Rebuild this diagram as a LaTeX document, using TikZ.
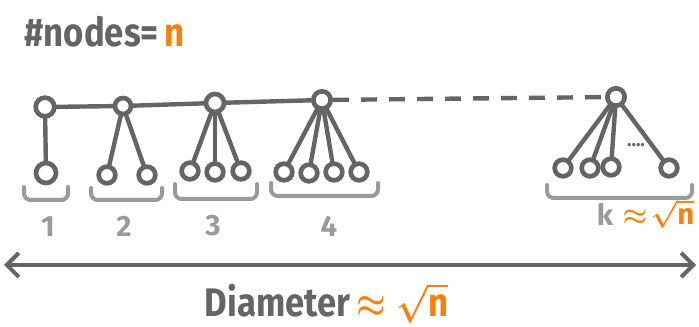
\documentclass[tikz,border=0pt]{standalone}
\usepackage{fontspec}
\setmainfont{Fira Sans}
\setsansfont{Fira Sans}
\usetikzlibrary{arrows.meta}
\definecolor{dk}{HTML}{656565}
\definecolor{lt}{HTML}{9A9A9A}
\definecolor{og}{HTML}{FF7F0E}
\tikzset{
  root/.style={circle,draw=dk,line width=3.5pt,fill=white,inner sep=0pt,minimum size=#1},
  leaf/.style={circle,draw=dk,line width=3.5pt,fill=white,inner sep=0pt,minimum size=12.5pt},
  edge/.style={draw=dk,line width=3.3pt,line cap=round},
  bracebox/.style={draw=lt,line width=3pt,rounded corners=5pt,line cap=round},
  lbl/.style={text=lt,font=\fontsize{22}{22}\selectfont\bfseries},
  big/.style={text=dk,font=\fontsize{26}{26}\selectfont\bfseries}
}
\begin{document}
\begin{tikzpicture}[x=0.75pt,y=-0.75pt]
\useasboundingbox (0,0) rectangle (699,327);
% title
\node[big,anchor=west] (title) at (20,32) {\scalebox{1}[1.15]{\#nodes=\,\textcolor{og}{n}}};
% roots
\node[root=14pt] (r1) at (45,107) {};
\node[root=12pt] (r2) at (123,106) {};
\node[root=13.5pt] (r3) at (215,103) {};
\node[root=13pt] (r4) at (322,100) {};
\node[root=13pt] (r5) at (616,97) {};
% leaves
\node[leaf,minimum size=15pt] (a1) at (46,173) {};
\node[leaf] (b1) at (107,175) {};
\node[leaf] (b2) at (147,175) {};
\node[leaf] (c1) at (190,171) {};
\node[leaf] (c2) at (215,172) {};
\node[leaf] (c3) at (241,171) {};
\node[leaf] (d1) at (284,172) {};
\node[leaf] (d2) at (309,173) {};
\node[leaf] (d3) at (334,172) {};
\node[leaf] (d4) at (359,172) {};
\node[leaf] (e1) at (563,168) {};
\node[leaf] (e2) at (590,168) {};
\node[leaf] (e3) at (611,167) {};
\node[leaf] (e4) at (669,168) {};
% spine
\draw[edge] (r1) -- (r2) -- (r3) -- (r4);
\draw[edge,dash pattern=on 12pt off 9pt,line cap=butt] (r4) -- (r5);
% edges
\draw[edge] (r1) -- (a1);
\foreach \c in {b1,b2} \draw[edge] (r2) -- (\c);
\foreach \c in {c1,c2,c3} \draw[edge] (r3) -- (\c);
\foreach \c in {d1,d2,d3,d4} \draw[edge] (r4) -- (\c);
\foreach \c in {e1,e2,e3,e4} \draw[edge] (r5) -- (\c);
\node[text=dk,font=\fontsize{14}{14}\selectfont\bfseries] (dots) at (636,145) {....};
% braces
\draw[bracebox] (24,187) -- (24,200) -- (68,200) -- (68,187);
\draw[bracebox] (91,188) -- (91,200) -- (162,200) -- (162,188);
\draw[bracebox] (175,184) -- (175,199) -- (257,199) -- (257,184);
\draw[bracebox] (271,183) -- (271,196) -- (378,196) -- (378,183);
\draw[bracebox] (547,185) -- (547,198) -- (692,198) -- (692,185);
% labels
\node[lbl] (l1) at (48,227) {1};
\node[lbl] (l2) at (124,226) {2};
\node[lbl] (l3) at (213,226) {3};
\node[lbl] (l4) at (329,226) {4};
\node[text=og,font=\fontsize{22}{22}\selectfont\bfseries\boldmath,anchor=east] (lkv) at (699,214) {$\approx\!\sqrt{\mathsf{n}}$};
\node[lbl,anchor=east] (lk) at (lkv.west) {k};
% arrow
\coordinate (al) at (4,265);
\coordinate (ar) at (696,265);
\draw[draw=dk,line width=3pt,{Straight Barb[length=9pt,width=18pt]}-{Straight Barb[length=9pt,width=18pt]}] (al) -- (ar);
% diameter
\node[big,anchor=west] (diam) at (200,303) {\scalebox{1}[1.15]{Diameter\,\textcolor{og}{\boldmath$\approx\sqrt{\mathsf{n}}$}}};
\end{tikzpicture}
\end{document}
